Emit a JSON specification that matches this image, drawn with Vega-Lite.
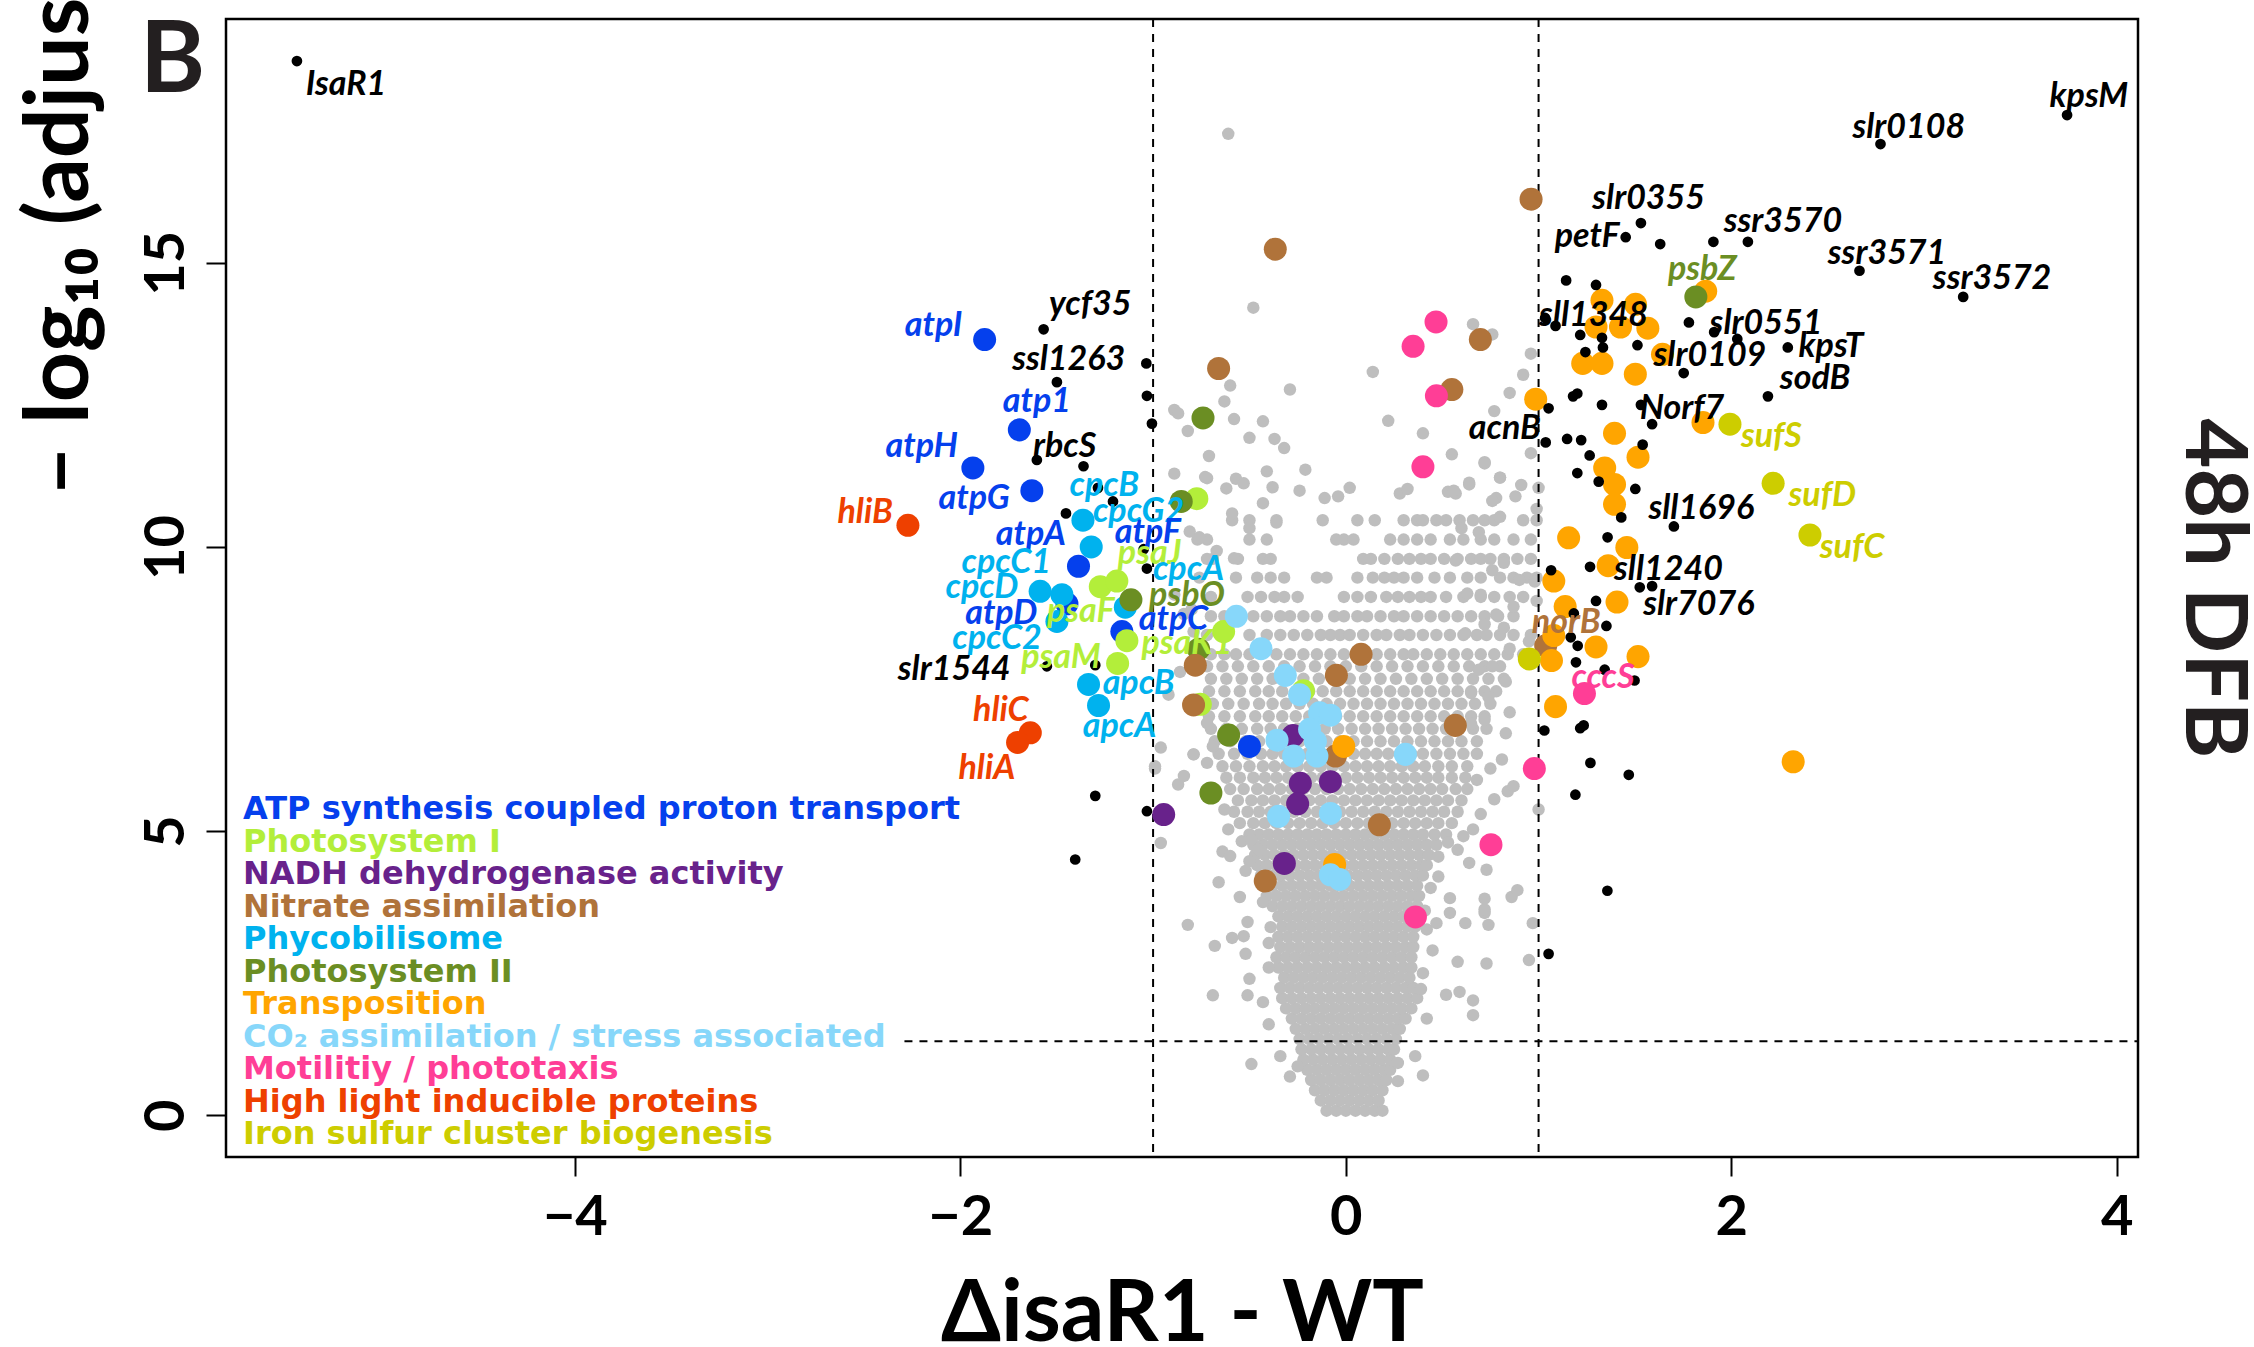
{
"$schema":"https://vega.github.io/schema/vega-lite/v6.json",
"width":1912,"height":1138,
"autosize":{"type":"none"},
"padding":{"left":226,"top":19,"right":116,"bottom":190},
"background":"white",
"config":{"view":{"stroke":"black","strokeWidth":2.5},"axis":{"grid":false,"domain":false,"tickColor":"black","labelColor":"black","titleColor":"black","labelOverlap":false}},
"datasets":{
"gray":[
{"x":-0.1,"y":0.08},{"x":-0.05,"y":0.08},{"x":0,"y":0.08},{"x":0.05,"y":0.08},{"x":0.1,"y":0.08},{"x":0.15,"y":0.08},{"x":0.19,"y":0.08},
{"x":-0.13,"y":0.26},{"x":-0.08,"y":0.26},{"x":-0.03,"y":0.26},{"x":0.02,"y":0.26},{"x":0.07,"y":0.26},{"x":0.12,"y":0.26},{"x":0.17,"y":0.26},
{"x":-0.16,"y":0.44},{"x":-0.11,"y":0.44},{"x":-0.06,"y":0.44},{"x":-0.01,"y":0.44},{"x":0.04,"y":0.44},{"x":0.09,"y":0.44},{"x":0.14,"y":0.44},{"x":0.19,"y":0.44},
{"x":-0.18,"y":0.62},{"x":-0.13,"y":0.62},{"x":-0.08,"y":0.62},{"x":-0.03,"y":0.62},{"x":0.02,"y":0.62},{"x":0.07,"y":0.62},{"x":0.12,"y":0.62},{"x":0.17,"y":0.62},{"x":0.21,"y":0.62},
{"x":-0.2,"y":0.8},{"x":-0.15,"y":0.8},{"x":-0.1,"y":0.8},{"x":-0.05,"y":0.8},{"x":0,"y":0.8},{"x":0.05,"y":0.8},{"x":0.1,"y":0.8},{"x":0.15,"y":0.8},{"x":0.2,"y":0.8},{"x":0.23,"y":0.8},
{"x":-0.22,"y":0.98},{"x":-0.17,"y":0.98},{"x":-0.12,"y":0.98},{"x":-0.07,"y":0.98},{"x":-0.02,"y":0.98},{"x":0.03,"y":0.98},{"x":0.08,"y":0.98},{"x":0.13,"y":0.98},{"x":0.18,"y":0.98},{"x":0.23,"y":0.98},
{"x":-0.23,"y":1.16},{"x":-0.18,"y":1.16},{"x":-0.13,"y":1.16},{"x":-0.08,"y":1.16},{"x":-0.03,"y":1.16},{"x":0.02,"y":1.16},{"x":0.07,"y":1.16},{"x":0.12,"y":1.16},{"x":0.17,"y":1.16},{"x":0.22,"y":1.16},{"x":0.25,"y":1.16},
{"x":-0.24,"y":1.34},{"x":-0.19,"y":1.34},{"x":-0.14,"y":1.34},{"x":-0.09,"y":1.34},{"x":-0.04,"y":1.34},{"x":0.01,"y":1.34},{"x":0.06,"y":1.34},{"x":0.11,"y":1.34},{"x":0.16,"y":1.34},{"x":0.21,"y":1.34},{"x":0.26,"y":1.34},
{"x":-0.26,"y":1.52},{"x":-0.21,"y":1.52},{"x":-0.16,"y":1.52},{"x":-0.11,"y":1.52},{"x":-0.06,"y":1.52},{"x":-0.01,"y":1.52},{"x":0.04,"y":1.52},{"x":0.09,"y":1.52},{"x":0.14,"y":1.52},{"x":0.19,"y":1.52},{"x":0.24,"y":1.52},{"x":0.28,"y":1.52},
{"x":-0.28,"y":1.7},{"x":-0.23,"y":1.7},{"x":-0.18,"y":1.7},{"x":-0.13,"y":1.7},{"x":-0.08,"y":1.7},{"x":-0.03,"y":1.7},{"x":0.02,"y":1.7},{"x":0.07,"y":1.7},{"x":0.12,"y":1.7},{"x":0.17,"y":1.7},{"x":0.22,"y":1.7},{"x":0.27,"y":1.7},{"x":0.31,"y":1.7},
{"x":-0.31,"y":1.88},{"x":-0.26,"y":1.88},{"x":-0.21,"y":1.88},{"x":-0.16,"y":1.88},{"x":-0.11,"y":1.88},{"x":-0.06,"y":1.88},{"x":-0.01,"y":1.88},{"x":0.04,"y":1.88},{"x":0.09,"y":1.88},{"x":0.14,"y":1.88},{"x":0.19,"y":1.88},{"x":0.24,"y":1.88},{"x":0.29,"y":1.88},{"x":0.34,"y":1.88},
{"x":-0.33,"y":2.06},{"x":-0.28,"y":2.06},{"x":-0.23,"y":2.06},{"x":-0.18,"y":2.06},{"x":-0.13,"y":2.06},{"x":-0.08,"y":2.06},{"x":-0.03,"y":2.06},{"x":0.02,"y":2.06},{"x":0.07,"y":2.06},{"x":0.12,"y":2.06},{"x":0.17,"y":2.06},{"x":0.22,"y":2.06},{"x":0.27,"y":2.06},{"x":0.32,"y":2.06},{"x":0.37,"y":2.06},
{"x":-0.34,"y":2.24},{"x":-0.29,"y":2.24},{"x":-0.24,"y":2.24},{"x":-0.19,"y":2.24},{"x":-0.14,"y":2.24},{"x":-0.09,"y":2.24},{"x":-0.04,"y":2.24},{"x":0.01,"y":2.24},{"x":0.06,"y":2.24},{"x":0.11,"y":2.24},{"x":0.16,"y":2.24},{"x":0.21,"y":2.24},{"x":0.26,"y":2.24},{"x":0.31,"y":2.24},{"x":0.35,"y":2.24},
{"x":-0.32,"y":2.42},{"x":-0.27,"y":2.42},{"x":-0.22,"y":2.42},{"x":-0.17,"y":2.42},{"x":-0.12,"y":2.42},{"x":-0.07,"y":2.42},{"x":-0.02,"y":2.42},{"x":0.03,"y":2.42},{"x":0.08,"y":2.42},{"x":0.13,"y":2.42},{"x":0.18,"y":2.42},{"x":0.23,"y":2.42},{"x":0.28,"y":2.42},{"x":0.33,"y":2.42},
{"x":-0.35,"y":2.6},{"x":-0.3,"y":2.6},{"x":-0.25,"y":2.6},{"x":-0.2,"y":2.6},{"x":-0.15,"y":2.6},{"x":-0.1,"y":2.6},{"x":-0.05,"y":2.6},{"x":0,"y":2.6},{"x":0.05,"y":2.6},{"x":0.1,"y":2.6},{"x":0.15,"y":2.6},{"x":0.2,"y":2.6},{"x":0.25,"y":2.6},{"x":0.3,"y":2.6},{"x":0.34,"y":2.6},
{"x":-0.36,"y":2.78},{"x":-0.31,"y":2.78},{"x":-0.26,"y":2.78},{"x":-0.21,"y":2.78},{"x":-0.16,"y":2.78},{"x":-0.11,"y":2.78},{"x":-0.06,"y":2.78},{"x":-0.01,"y":2.78},{"x":0.04,"y":2.78},{"x":0.09,"y":2.78},{"x":0.14,"y":2.78},{"x":0.19,"y":2.78},{"x":0.24,"y":2.78},{"x":0.29,"y":2.78},{"x":0.34,"y":2.78},
{"x":-0.34,"y":2.96},{"x":-0.29,"y":2.96},{"x":-0.24,"y":2.96},{"x":-0.19,"y":2.96},{"x":-0.14,"y":2.96},{"x":-0.09,"y":2.96},{"x":-0.04,"y":2.96},{"x":0.01,"y":2.96},{"x":0.06,"y":2.96},{"x":0.11,"y":2.96},{"x":0.16,"y":2.96},{"x":0.21,"y":2.96},{"x":0.26,"y":2.96},{"x":0.31,"y":2.96},{"x":0.35,"y":2.96},
{"x":-0.35,"y":3.14},{"x":-0.3,"y":3.14},{"x":-0.25,"y":3.14},{"x":-0.2,"y":3.14},{"x":-0.15,"y":3.14},{"x":-0.1,"y":3.14},{"x":-0.05,"y":3.14},{"x":0,"y":3.14},{"x":0.05,"y":3.14},{"x":0.1,"y":3.14},{"x":0.15,"y":3.14},{"x":0.2,"y":3.14},{"x":0.25,"y":3.14},{"x":0.3,"y":3.14},{"x":0.35,"y":3.14},
{"x":-0.33,"y":3.32},{"x":-0.28,"y":3.32},{"x":-0.23,"y":3.32},{"x":-0.18,"y":3.32},{"x":-0.13,"y":3.32},{"x":-0.08,"y":3.32},{"x":-0.03,"y":3.32},{"x":0.02,"y":3.32},{"x":0.07,"y":3.32},{"x":0.12,"y":3.32},{"x":0.17,"y":3.32},{"x":0.22,"y":3.32},{"x":0.27,"y":3.32},{"x":0.32,"y":3.32},{"x":0.36,"y":3.32},
{"x":-0.35,"y":3.5},{"x":-0.3,"y":3.5},{"x":-0.25,"y":3.5},{"x":-0.2,"y":3.5},{"x":-0.15,"y":3.5},{"x":-0.1,"y":3.5},{"x":-0.05,"y":3.5},{"x":0,"y":3.5},{"x":0.05,"y":3.5},{"x":0.1,"y":3.5},{"x":0.15,"y":3.5},{"x":0.2,"y":3.5},{"x":0.25,"y":3.5},{"x":0.3,"y":3.5},{"x":0.35,"y":3.5},
{"x":-0.38,"y":3.68},{"x":-0.33,"y":3.68},{"x":-0.28,"y":3.68},{"x":-0.23,"y":3.68},{"x":-0.18,"y":3.68},{"x":-0.13,"y":3.68},{"x":-0.08,"y":3.68},{"x":-0.03,"y":3.68},{"x":0.02,"y":3.68},{"x":0.07,"y":3.68},{"x":0.12,"y":3.68},{"x":0.17,"y":3.68},{"x":0.22,"y":3.68},{"x":0.27,"y":3.68},{"x":0.32,"y":3.68},{"x":0.37,"y":3.68},
{"x":-0.41,"y":3.86},{"x":-0.36,"y":3.86},{"x":-0.31,"y":3.86},{"x":-0.26,"y":3.86},{"x":-0.21,"y":3.86},{"x":-0.16,"y":3.86},{"x":-0.11,"y":3.86},{"x":-0.06,"y":3.86},{"x":-0.01,"y":3.86},{"x":0.04,"y":3.86},{"x":0.09,"y":3.86},{"x":0.14,"y":3.86},{"x":0.19,"y":3.86},{"x":0.24,"y":3.86},{"x":0.29,"y":3.86},{"x":0.34,"y":3.86},{"x":0.38,"y":3.86},
{"x":-0.43,"y":4.04},{"x":-0.38,"y":4.04},{"x":-0.33,"y":4.04},{"x":-0.28,"y":4.04},{"x":-0.23,"y":4.04},{"x":-0.18,"y":4.04},{"x":-0.13,"y":4.04},{"x":-0.08,"y":4.04},{"x":-0.03,"y":4.04},{"x":0.02,"y":4.04},{"x":0.07,"y":4.04},{"x":0.12,"y":4.04},{"x":0.17,"y":4.04},{"x":0.22,"y":4.04},{"x":0.27,"y":4.04},{"x":0.32,"y":4.04},{"x":0.37,"y":4.04},
{"x":-0.44,"y":4.22},{"x":-0.39,"y":4.22},{"x":-0.34,"y":4.22},{"x":-0.29,"y":4.22},{"x":-0.24,"y":4.22},{"x":-0.19,"y":4.22},{"x":-0.14,"y":4.22},{"x":-0.09,"y":4.22},{"x":-0.04,"y":4.22},{"x":0.01,"y":4.22},{"x":0.06,"y":4.22},{"x":0.11,"y":4.22},{"x":0.16,"y":4.22},{"x":0.21,"y":4.22},{"x":0.26,"y":4.22},{"x":0.31,"y":4.22},{"x":0.36,"y":4.22},{"x":0.4,"y":4.22},
{"x":-0.46,"y":4.4},{"x":-0.41,"y":4.4},{"x":-0.36,"y":4.4},{"x":-0.31,"y":4.4},{"x":-0.26,"y":4.4},{"x":-0.21,"y":4.4},{"x":-0.16,"y":4.4},{"x":-0.11,"y":4.4},{"x":-0.06,"y":4.4},{"x":-0.01,"y":4.4},{"x":0.04,"y":4.4},{"x":0.09,"y":4.4},{"x":0.14,"y":4.4},{"x":0.19,"y":4.4},{"x":0.24,"y":4.4},{"x":0.29,"y":4.4},{"x":0.34,"y":4.4},{"x":0.39,"y":4.4},{"x":0.42,"y":4.4},
{"x":-0.47,"y":4.58},{"x":-0.42,"y":4.58},{"x":-0.37,"y":4.58},{"x":-0.32,"y":4.58},{"x":-0.27,"y":4.58},{"x":-0.22,"y":4.58},{"x":-0.17,"y":4.58},{"x":-0.12,"y":4.58},{"x":-0.07,"y":4.58},{"x":-0.02,"y":4.58},{"x":0.03,"y":4.58},{"x":0.08,"y":4.58},{"x":0.13,"y":4.58},{"x":0.18,"y":4.58},{"x":0.23,"y":4.58},{"x":0.28,"y":4.58},{"x":0.33,"y":4.58},{"x":0.38,"y":4.58},{"x":0.43,"y":4.58},
{"x":-0.48,"y":4.76},{"x":-0.43,"y":4.76},{"x":-0.38,"y":4.76},{"x":-0.33,"y":4.76},{"x":-0.28,"y":4.76},{"x":-0.23,"y":4.76},{"x":-0.18,"y":4.76},{"x":-0.13,"y":4.76},{"x":-0.08,"y":4.76},{"x":-0.03,"y":4.76},{"x":0.02,"y":4.76},{"x":0.07,"y":4.76},{"x":0.12,"y":4.76},{"x":0.17,"y":4.76},{"x":0.22,"y":4.76},{"x":0.27,"y":4.76},{"x":0.32,"y":4.76},{"x":0.37,"y":4.76},{"x":0.42,"y":4.76},{"x":0.47,"y":4.76},
{"x":-0.5,"y":4.94},{"x":-0.45,"y":4.94},{"x":-0.4,"y":4.94},{"x":-0.35,"y":4.94},{"x":-0.3,"y":4.94},{"x":-0.25,"y":4.94},{"x":-0.2,"y":4.94},{"x":-0.15,"y":4.94},{"x":-0.1,"y":4.94},{"x":-0.05,"y":4.94},{"x":0,"y":4.94},{"x":0.05,"y":4.94},{"x":0.1,"y":4.94},{"x":0.15,"y":4.94},{"x":0.2,"y":4.94},{"x":0.25,"y":4.94},{"x":0.3,"y":4.94},{"x":0.35,"y":4.94},{"x":0.4,"y":4.94},{"x":0.46,"y":4.94},{"x":0.52,"y":4.94},
{"x":-0.55,"y":5.14},{"x":-0.48,"y":5.14},{"x":-0.42,"y":5.14},{"x":-0.36,"y":5.14},{"x":-0.3,"y":5.14},{"x":-0.24,"y":5.14},{"x":-0.18,"y":5.14},{"x":-0.12,"y":5.14},{"x":-0.06,"y":5.14},{"x":0,"y":5.14},{"x":0.06,"y":5.14},{"x":0.12,"y":5.14},{"x":0.18,"y":5.14},{"x":0.24,"y":5.14},{"x":0.3,"y":5.14},{"x":0.36,"y":5.14},{"x":0.42,"y":5.14},{"x":0.48,"y":5.14},{"x":0.55,"y":5.14},
{"x":-0.58,"y":5.34},{"x":-0.51,"y":5.34},{"x":-0.45,"y":5.34},{"x":-0.39,"y":5.34},{"x":-0.33,"y":5.34},{"x":-0.27,"y":5.34},{"x":-0.21,"y":5.34},{"x":-0.15,"y":5.34},{"x":-0.09,"y":5.34},{"x":-0.03,"y":5.34},{"x":0.03,"y":5.34},{"x":0.09,"y":5.34},{"x":0.15,"y":5.34},{"x":0.21,"y":5.34},{"x":0.27,"y":5.34},{"x":0.33,"y":5.34},{"x":0.39,"y":5.34},{"x":0.45,"y":5.34},{"x":0.51,"y":5.34},{"x":0.58,"y":5.34},
{"x":-0.56,"y":5.54},{"x":-0.49,"y":5.54},{"x":-0.43,"y":5.54},{"x":-0.37,"y":5.54},{"x":-0.31,"y":5.54},{"x":-0.25,"y":5.54},{"x":-0.19,"y":5.54},{"x":-0.13,"y":5.54},{"x":-0.07,"y":5.54},{"x":-0.01,"y":5.54},{"x":0.05,"y":5.54},{"x":0.11,"y":5.54},{"x":0.17,"y":5.54},{"x":0.23,"y":5.54},{"x":0.29,"y":5.54},{"x":0.35,"y":5.54},{"x":0.41,"y":5.54},{"x":0.47,"y":5.54},{"x":0.53,"y":5.54},{"x":0.6,"y":5.54},
{"x":-0.6,"y":5.74},{"x":-0.53,"y":5.74},{"x":-0.46,"y":5.74},{"x":-0.4,"y":5.74},{"x":-0.34,"y":5.74},{"x":-0.28,"y":5.74},{"x":-0.22,"y":5.74},{"x":-0.16,"y":5.74},{"x":-0.1,"y":5.74},{"x":-0.04,"y":5.74},{"x":0.02,"y":5.74},{"x":0.08,"y":5.74},{"x":0.14,"y":5.74},{"x":0.2,"y":5.74},{"x":0.26,"y":5.74},{"x":0.32,"y":5.74},{"x":0.38,"y":5.74},{"x":0.44,"y":5.74},{"x":0.5,"y":5.74},{"x":0.57,"y":5.74},{"x":0.63,"y":5.74},
{"x":-0.62,"y":5.94},{"x":-0.55,"y":5.94},{"x":-0.48,"y":5.94},{"x":-0.42,"y":5.94},{"x":-0.36,"y":5.94},{"x":-0.3,"y":5.94},{"x":-0.24,"y":5.94},{"x":-0.18,"y":5.94},{"x":-0.12,"y":5.94},{"x":-0.06,"y":5.94},{"x":0,"y":5.94},{"x":0.06,"y":5.94},{"x":0.12,"y":5.94},{"x":0.18,"y":5.94},{"x":0.24,"y":5.94},{"x":0.3,"y":5.94},{"x":0.36,"y":5.94},{"x":0.42,"y":5.94},{"x":0.48,"y":5.94},{"x":0.55,"y":5.94},{"x":0.62,"y":5.94},
{"x":-0.64,"y":6.14},{"x":-0.57,"y":6.14},{"x":-0.5,"y":6.14},{"x":-0.43,"y":6.14},{"x":-0.37,"y":6.14},{"x":-0.31,"y":6.14},{"x":-0.25,"y":6.14},{"x":-0.19,"y":6.14},{"x":-0.13,"y":6.14},{"x":-0.07,"y":6.14},{"x":-0.01,"y":6.14},{"x":0.05,"y":6.14},{"x":0.11,"y":6.14},{"x":0.17,"y":6.14},{"x":0.23,"y":6.14},{"x":0.29,"y":6.14},{"x":0.35,"y":6.14},{"x":0.41,"y":6.14},{"x":0.48,"y":6.14},{"x":0.55,"y":6.14},{"x":0.63,"y":6.14},
{"x":-0.66,"y":6.36},{"x":-0.58,"y":6.36},{"x":-0.51,"y":6.36},{"x":-0.44,"y":6.36},{"x":-0.38,"y":6.36},{"x":-0.32,"y":6.36},{"x":-0.26,"y":6.36},{"x":-0.2,"y":6.36},{"x":-0.14,"y":6.36},{"x":-0.08,"y":6.36},{"x":-0.02,"y":6.36},{"x":0.04,"y":6.36},{"x":0.1,"y":6.36},{"x":0.16,"y":6.36},{"x":0.22,"y":6.36},{"x":0.28,"y":6.36},{"x":0.34,"y":6.36},{"x":0.4,"y":6.36},{"x":0.47,"y":6.36},{"x":0.54,"y":6.36},{"x":0.61,"y":6.36},{"x":0.68,"y":6.36},
{"x":-0.68,"y":6.58},{"x":-0.6,"y":6.58},{"x":-0.52,"y":6.58},{"x":-0.45,"y":6.58},{"x":-0.38,"y":6.58},{"x":-0.31,"y":6.58},{"x":-0.24,"y":6.58},{"x":-0.17,"y":6.58},{"x":-0.1,"y":6.58},{"x":-0.03,"y":6.58},{"x":0.04,"y":6.58},{"x":0.11,"y":6.58},{"x":0.18,"y":6.58},{"x":0.25,"y":6.58},{"x":0.32,"y":6.58},{"x":0.39,"y":6.58},{"x":0.46,"y":6.58},{"x":0.53,"y":6.58},{"x":0.6,"y":6.58},{"x":0.68,"y":6.58},
{"x":-0.7,"y":6.8},{"x":-0.62,"y":6.8},{"x":-0.54,"y":6.8},{"x":-0.46,"y":6.8},{"x":-0.39,"y":6.8},{"x":-0.32,"y":6.8},{"x":-0.25,"y":6.8},{"x":-0.18,"y":6.8},{"x":-0.11,"y":6.8},{"x":-0.04,"y":6.8},{"x":0.03,"y":6.8},{"x":0.1,"y":6.8},{"x":0.17,"y":6.8},{"x":0.24,"y":6.8},{"x":0.31,"y":6.8},{"x":0.38,"y":6.8},{"x":0.45,"y":6.8},{"x":0.52,"y":6.8},{"x":0.59,"y":6.8},{"x":0.66,"y":6.8},{"x":0.73,"y":6.8},
{"x":-0.71,"y":7.02},{"x":-0.63,"y":7.02},{"x":-0.55,"y":7.02},{"x":-0.47,"y":7.02},{"x":-0.4,"y":7.02},{"x":-0.33,"y":7.02},{"x":-0.26,"y":7.02},{"x":-0.19,"y":7.02},{"x":-0.12,"y":7.02},{"x":-0.05,"y":7.02},{"x":0.02,"y":7.02},{"x":0.09,"y":7.02},{"x":0.16,"y":7.02},{"x":0.23,"y":7.02},{"x":0.3,"y":7.02},{"x":0.37,"y":7.02},{"x":0.44,"y":7.02},{"x":0.51,"y":7.02},{"x":0.58,"y":7.02},{"x":0.65,"y":7.02},{"x":0.72,"y":7.02},
{"x":-0.69,"y":7.24},{"x":-0.61,"y":7.24},{"x":-0.53,"y":7.24},{"x":-0.45,"y":7.24},{"x":-0.38,"y":7.24},{"x":-0.31,"y":7.24},{"x":-0.24,"y":7.24},{"x":-0.17,"y":7.24},{"x":-0.1,"y":7.24},{"x":-0.03,"y":7.24},{"x":0.04,"y":7.24},{"x":0.11,"y":7.24},{"x":0.18,"y":7.24},{"x":0.25,"y":7.24},{"x":0.32,"y":7.24},{"x":0.39,"y":7.24},{"x":0.46,"y":7.24},{"x":0.53,"y":7.24},{"x":0.6,"y":7.24},{"x":0.67,"y":7.24},{"x":0.75,"y":7.24},
{"x":-0.71,"y":7.46},{"x":-0.63,"y":7.46},{"x":-0.55,"y":7.46},{"x":-0.47,"y":7.46},{"x":-0.4,"y":7.46},{"x":-0.33,"y":7.46},{"x":-0.26,"y":7.46},{"x":-0.19,"y":7.46},{"x":-0.12,"y":7.46},{"x":-0.05,"y":7.46},{"x":0.02,"y":7.46},{"x":0.09,"y":7.46},{"x":0.16,"y":7.46},{"x":0.23,"y":7.46},{"x":0.3,"y":7.46},{"x":0.37,"y":7.46},{"x":0.44,"y":7.46},{"x":0.51,"y":7.46},{"x":0.58,"y":7.46},{"x":0.65,"y":7.46},{"x":0.72,"y":7.46},{"x":0.78,"y":7.46},
{"x":-0.7,"y":7.68},{"x":-0.62,"y":7.68},{"x":-0.54,"y":7.68},{"x":-0.46,"y":7.68},{"x":-0.38,"y":7.68},{"x":-0.3,"y":7.68},{"x":-0.22,"y":7.68},{"x":-0.14,"y":7.68},{"x":-0.06,"y":7.68},{"x":0.02,"y":7.68},{"x":0.1,"y":7.68},{"x":0.18,"y":7.68},{"x":0.26,"y":7.68},{"x":0.34,"y":7.68},{"x":0.42,"y":7.68},{"x":0.5,"y":7.68},{"x":0.58,"y":7.68},{"x":0.66,"y":7.68},{"x":0.74,"y":7.68},{"x":0.82,"y":7.68},
{"x":-0.72,"y":7.9},{"x":-0.64,"y":7.9},{"x":-0.56,"y":7.9},{"x":-0.48,"y":7.9},{"x":-0.4,"y":7.9},{"x":-0.32,"y":7.9},{"x":-0.24,"y":7.9},{"x":-0.16,"y":7.9},{"x":-0.08,"y":7.9},{"x":0,"y":7.9},{"x":0.08,"y":7.9},{"x":0.16,"y":7.9},{"x":0.24,"y":7.9},{"x":0.32,"y":7.9},{"x":0.4,"y":7.9},{"x":0.48,"y":7.9},{"x":0.56,"y":7.9},{"x":0.64,"y":7.9},{"x":0.72,"y":7.9},{"x":0.8,"y":7.9},
{"x":-0.7,"y":8.11},{"x":-0.63,"y":8.11},{"x":-0.57,"y":8.11},{"x":-0.5,"y":8.11},{"x":-0.36,"y":8.11},{"x":-0.29,"y":8.11},{"x":-0.22,"y":8.11},{"x":-0.15,"y":8.11},{"x":-0.08,"y":8.11},{"x":-0.01,"y":8.11},{"x":0.16,"y":8.11},{"x":0.23,"y":8.11},{"x":0.3,"y":8.11},{"x":0.35,"y":8.11},{"x":0.42,"y":8.11},{"x":0.49,"y":8.11},{"x":0.56,"y":8.11},{"x":0.63,"y":8.11},{"x":0.7,"y":8.11},{"x":0.77,"y":8.11},{"x":0.84,"y":8.11},{"x":0.92,"y":8.11},
{"x":-0.72,"y":8.45},{"x":-0.5,"y":8.45},{"x":-0.41,"y":8.45},{"x":-0.34,"y":8.45},{"x":-0.27,"y":8.45},{"x":-0.2,"y":8.45},{"x":-0.13,"y":8.45},{"x":-0.08,"y":8.45},{"x":-0.03,"y":8.45},{"x":0.02,"y":8.45},{"x":0.09,"y":8.45},{"x":0.16,"y":8.45},{"x":0.21,"y":8.45},{"x":0.28,"y":8.45},{"x":0.33,"y":8.45},{"x":0.4,"y":8.45},{"x":0.47,"y":8.45},{"x":0.54,"y":8.45},{"x":0.61,"y":8.45},{"x":0.68,"y":8.45},{"x":0.73,"y":8.45},{"x":0.8,"y":8.45},{"x":0.87,"y":8.45},{"x":0.96,"y":8.45},
{"x":-0.7,"y":8.78},{"x":-0.63,"y":8.78},{"x":-0.48,"y":8.78},{"x":-0.41,"y":8.78},{"x":-0.34,"y":8.78},{"x":-0.29,"y":8.78},{"x":-0.22,"y":8.78},{"x":-0.15,"y":8.78},{"x":-0.06,"y":8.78},{"x":-0.01,"y":8.78},{"x":0.06,"y":8.78},{"x":0.11,"y":8.78},{"x":0.18,"y":8.78},{"x":0.25,"y":8.78},{"x":0.3,"y":8.78},{"x":0.37,"y":8.78},{"x":0.44,"y":8.78},{"x":0.51,"y":8.78},{"x":0.58,"y":8.78},{"x":0.65,"y":8.78},{"x":0.72,"y":8.78},{"x":0.79,"y":8.78},{"x":0.87,"y":8.78},
{"x":-0.7,"y":9.12},{"x":-0.51,"y":9.12},{"x":-0.44,"y":9.12},{"x":-0.37,"y":9.12},{"x":-0.32,"y":9.12},{"x":-0.25,"y":9.12},{"x":-0.01,"y":9.12},{"x":0.06,"y":9.12},{"x":0.13,"y":9.12},{"x":0.21,"y":9.12},{"x":0.27,"y":9.12},{"x":0.33,"y":9.12},{"x":0.39,"y":9.12},{"x":0.44,"y":9.12},{"x":0.52,"y":9.12},{"x":0.61,"y":9.12},{"x":0.7,"y":9.12},{"x":0.77,"y":9.12},{"x":0.85,"y":9.12},{"x":0.92,"y":9.12},
{"x":-0.76,"y":9.46},{"x":-0.57,"y":9.46},{"x":-0.46,"y":9.46},{"x":-0.39,"y":9.46},{"x":-0.32,"y":9.46},{"x":-0.15,"y":9.46},{"x":-0.1,"y":9.46},{"x":0.06,"y":9.46},{"x":0.14,"y":9.46},{"x":0.2,"y":9.46},{"x":0.25,"y":9.46},{"x":0.3,"y":9.46},{"x":0.37,"y":9.46},{"x":0.46,"y":9.46},{"x":0.54,"y":9.46},{"x":0.63,"y":9.46},{"x":0.7,"y":9.46},{"x":0.8,"y":9.46},{"x":0.87,"y":9.46},{"x":0.94,"y":9.46},{"x":0.99,"y":9.46},
{"x":-0.72,"y":9.79},{"x":-0.69,"y":9.79},{"x":-0.56,"y":9.79},{"x":-0.43,"y":9.79},{"x":-0.39,"y":9.79},{"x":0.09,"y":9.79},{"x":0.13,"y":9.79},{"x":0.2,"y":9.79},{"x":0.27,"y":9.79},{"x":0.33,"y":9.79},{"x":0.39,"y":9.79},{"x":0.44,"y":9.79},{"x":0.51,"y":9.79},{"x":0.58,"y":9.79},{"x":0.65,"y":9.79},{"x":0.7,"y":9.79},{"x":0.75,"y":9.79},{"x":0.82,"y":9.79},{"x":0.89,"y":9.79},{"x":0.96,"y":9.79},
{"x":-0.77,"y":10.13},{"x":-0.72,"y":10.13},{"x":-0.5,"y":10.13},{"x":-0.41,"y":10.13},{"x":-0.05,"y":10.13},{"x":-0.01,"y":10.13},{"x":0.04,"y":10.13},{"x":0.23,"y":10.13},{"x":0.3,"y":10.13},{"x":0.37,"y":10.13},{"x":0.44,"y":10.13},{"x":0.54,"y":10.13},{"x":0.61,"y":10.13},{"x":0.7,"y":10.13},{"x":0.77,"y":10.13},{"x":0.87,"y":10.13},{"x":0.96,"y":10.13},
{"x":-0.59,"y":10.47},{"x":-0.5,"y":10.47},{"x":-0.36,"y":10.47},{"x":-0.12,"y":10.47},{"x":0.06,"y":10.47},{"x":0.15,"y":10.47},{"x":0.3,"y":10.47},{"x":0.37,"y":10.47},{"x":0.4,"y":10.47},{"x":0.47,"y":10.47},{"x":0.52,"y":10.47},{"x":0.59,"y":10.47},{"x":0.66,"y":10.47},{"x":0.72,"y":10.47},{"x":0.77,"y":10.47},{"x":0.92,"y":10.47},{"x":0.99,"y":10.47},
{"x":-0.61,"y":17.27},{"x":-0.48,"y":14.21},{"x":0.14,"y":13.08},{"x":-0.29,"y":12.77},{"x":0.66,"y":13.92},{"x":0.76,"y":13.74},{"x":0.96,"y":13.4},{"x":0.92,"y":13.03},{"x":0.85,"y":12.71},{"x":-0.6,"y":12.84},{"x":-0.63,"y":12.56},{"x":-0.58,"y":12.25},{"x":-0.89,"y":12.41},{"x":-0.87,"y":12.35},{"x":-0.82,"y":12.04},{"x":-0.71,"y":11.6},{"x":-0.5,"y":11.92},{"x":-0.43,"y":12.21},{"x":-0.37,"y":11.9},{"x":-0.32,"y":11.74},{"x":0.22,"y":12.22},{"x":0.4,"y":12.0},{"x":0.55,"y":11.63},{"x":0.72,"y":11.49},{"x":0.77,"y":12.39},{"x":0.96,"y":11.65},{"x":-0.89,"y":11.29},{"x":-0.72,"y":11.21},{"x":-0.57,"y":11.2},{"x":-0.53,"y":11.12},{"x":-0.41,"y":11.33},{"x":-0.21,"y":11.36},{"x":-0.62,"y":11.03},{"x":-0.38,"y":11.05},{"x":-0.24,"y":10.99},{"x":-0.59,"y":10.59},{"x":-0.43,"y":10.77},{"x":-0.5,"y":10.33},{"x":-0.36,"y":10.43},{"x":-0.11,"y":10.86},{"x":-0.04,"y":10.89},{"x":0.02,"y":11.04},{"x":0.28,"y":10.94},{"x":0.32,"y":11.02},{"x":0.53,"y":10.97},{"x":0.57,"y":10.94},{"x":0.64,"y":11.13},{"x":0.8,"y":11.22},{"x":0.91,"y":11.09},{"x":0.78,"y":10.86},{"x":0.88,"y":10.89},{"x":1.0,"y":11.04},{"x":0.72,"y":11.47},{"x":0.8,"y":11.22},{"x":0.99,"y":10.67},{"x":0.76,"y":10.81},{"x":0.64,"y":11.1},{"x":0.56,"y":10.99},{"x":0.6,"y":10.33},{"x":0.69,"y":10.26},{"x":0.8,"y":10.53},
{"x":-0.73,"y":11.23},{"x":-0.81,"y":10.27},{"x":-0.76,"y":10.17},{"x":-0.67,"y":9.93},{"x":-0.58,"y":9.8},{"x":-0.89,"y":9.16},{"x":-0.84,"y":8.82},{"x":-0.79,"y":8.51},{"x":-0.92,"y":7.4},{"x":-0.86,"y":7.8},{"x":-0.8,"y":8.9},{"x":-0.96,"y":6.47},{"x":-0.87,"y":5.82},{"x":-0.79,"y":6.35},{"x":-0.99,"y":6.1},
{"x":0.57,"y":9.76},{"x":0.76,"y":9.59},{"x":0.82,"y":9.72},{"x":0.9,"y":9.42},{"x":0.98,"y":9.39},{"x":0.7,"y":9.16},{"x":0.63,"y":9.18},{"x":0.78,"y":8.81},{"x":0.87,"y":8.95},{"x":0.99,"y":9.05},{"x":0.72,"y":8.64},{"x":0.62,"y":8.48},{"x":0.82,"y":8.58},{"x":0.85,"y":8.21},{"x":0.95,"y":8.34},{"x":0.76,"y":7.9},{"x":0.69,"y":7.84},{"x":0.83,"y":7.63},{"x":0.65,"y":7.43},{"x":0.74,"y":7.36},{"x":0.85,"y":7.09},{"x":0.72,"y":6.96},{"x":0.65,"y":6.89},{"x":0.83,"y":6.72},
{"x":-0.99,"y":6.14},{"x":-0.96,"y":4.79},{"x":-0.84,"y":5.97},{"x":-0.79,"y":6.35},{"x":-0.72,"y":6.9},{"x":-0.69,"y":6.49},{"x":-0.63,"y":5.38},{"x":-0.61,"y":5.03},{"x":-0.64,"y":4.64},{"x":-0.6,"y":4.56},{"x":-0.54,"y":4.82},{"x":-0.49,"y":4.85},{"x":-0.5,"y":4.47},{"x":-0.45,"y":4.67},{"x":-0.66,"y":4.1},{"x":-0.55,"y":3.84},{"x":-0.43,"y":3.75},{"x":-0.82,"y":3.35},{"x":-0.59,"y":3.12},{"x":-0.53,"y":3.15},{"x":-0.51,"y":3.4},{"x":-0.39,"y":3.31},{"x":-0.68,"y":2.98},{"x":-0.52,"y":2.84},{"x":-0.4,"y":3.03},{"x":-0.5,"y":2.4},{"x":-0.69,"y":2.11},{"x":-0.51,"y":2.11},{"x":-0.43,"y":1.99},{"x":-0.49,"y":0.9},{"x":-0.34,"y":1.04},{"x":-0.29,"y":0.68},{"x":-0.25,"y":0.86},{"x":0.27,"y":0.6},{"x":0.4,"y":0.7},{"x":0.36,"y":1.04},{"x":0.27,"y":0.92},{"x":0.52,"y":2.12},{"x":0.59,"y":2.17},{"x":0.66,"y":2.02},{"x":0.66,"y":1.76},{"x":0.58,"y":2.7},{"x":0.73,"y":2.67},{"x":0.95,"y":2.73},{"x":0.42,"y":3.27},{"x":0.47,"y":3.38},{"x":0.62,"y":3.38},{"x":0.72,"y":3.56},{"x":0.74,"y":3.35},{"x":0.97,"y":3.38},{"x":0.54,"y":3.56},{"x":0.72,"y":3.81},{"x":0.72,"y":3.62},{"x":0.54,"y":3.82},{"x":0.48,"y":4.2},{"x":0.86,"y":3.84},{"x":0.89,"y":3.96},{"x":0.64,"y":4.44},{"x":0.73,"y":4.32},{"x":0.58,"y":4.67},{"x":0.61,"y":4.91},{"x":0.66,"y":5.03},{"x":0.77,"y":5.56},{"x":0.84,"y":5.7},{"x":0.87,"y":5.79},{"x":0.81,"y":6.26},{"x":1.0,"y":5.38},
{"x":0.4,"y":2.5},{"x":0.45,"y":2.9},{"x":0.41,"y":3.6},{"x":0.44,"y":4.0},{"x":0.48,"y":4.55},{"x":0.53,"y":4.8},{"x":0.42,"y":1.7},{"x":0.39,"y":2.22},{"x":-0.4,"y":2.6},{"x":-0.42,"y":4.2},{"x":-0.52,"y":4.3},{"x":-0.4,"y":1.6},{"x":0.7,"y":5.3},{"x":0.68,"y":5.9},{"x":0.75,"y":6.1},{"x":-0.68,"y":5.7},{"x":-0.72,"y":6.2}
],
"pts":[
{"x":-1.874,"y":13.65,"c":"ATP"},{"x":-1.694,"y":12.06,"c":"ATP"},{"x":-1.935,"y":11.39,"c":"ATP"},{"x":-1.629,"y":10.99,"c":"ATP"},{"x":-1.387,"y":9.66,"c":"ATP"},{"x":-1.447,"y":9.0,"c":"ATP"},{"x":-1.162,"y":8.51,"c":"ATP"},{"x":-0.5,"y":6.49,"c":"ATP"},
{"x":-0.773,"y":10.85,"c":"PSI"},{"x":-1.274,"y":9.3,"c":"PSI"},{"x":-1.188,"y":9.4,"c":"PSI"},{"x":-1.136,"y":8.35,"c":"PSI"},{"x":-1.184,"y":7.95,"c":"PSI"},{"x":-0.634,"y":8.51,"c":"PSI"},{"x":-0.755,"y":7.23,"c":"PSI"},{"x":-0.22,"y":7.47,"c":"PSI"},
{"x":-1.364,"y":10.47,"c":"PBS"},{"x":-1.321,"y":10.0,"c":"PBS"},{"x":-1.586,"y":9.22,"c":"PBS"},{"x":-1.473,"y":9.16,"c":"PBS"},{"x":-1.499,"y":8.69,"c":"PBS"},{"x":-1.144,"y":8.94,"c":"PBS"},{"x":-1.335,"y":7.58,"c":"PBS"},{"x":-1.283,"y":7.21,"c":"PBS"},
{"x":-0.741,"y":12.27,"c":"PSII"},{"x":-0.854,"y":10.8,"c":"PSII"},{"x":-1.115,"y":9.07,"c":"PSII"},{"x":-0.764,"y":8.2,"c":"PSII"},{"x":-0.608,"y":6.69,"c":"PSII"},{"x":-0.7,"y":5.67,"c":"PSII"},
{"x":-0.366,"y":15.24,"c":"NIT"},{"x":0.961,"y":16.12,"c":"NIT"},{"x":-0.66,"y":13.14,"c":"NIT"},{"x":0.698,"y":13.65,"c":"NIT"},{"x":0.55,"y":12.77,"c":"NIT"},{"x":-0.781,"y":7.92,"c":"NIT"},{"x":-0.79,"y":7.22,"c":"NIT"},{"x":0.079,"y":8.11,"c":"NIT"},{"x":-0.049,"y":7.74,"c":"NIT"},{"x":0.568,"y":6.86,"c":"NIT"},{"x":-0.054,"y":6.32,"c":"NIT"},{"x":0.174,"y":5.11,"c":"NIT"},{"x":-0.418,"y":4.12,"c":"NIT"},{"x":1.037,"y":8.26,"c":"NIT"},
{"x":-0.945,"y":5.29,"c":"NADH"},{"x":-0.274,"y":6.68,"c":"NADH"},{"x":-0.236,"y":5.84,"c":"NADH"},{"x":-0.08,"y":5.87,"c":"NADH"},{"x":-0.25,"y":5.48,"c":"NADH"},{"x":-0.319,"y":4.43,"c":"NADH"},
{"x":1.867,"y":14.5,"c":"TRN"},{"x":1.329,"y":14.34,"c":"TRN"},{"x":1.503,"y":14.27,"c":"TRN"},{"x":1.298,"y":13.87,"c":"TRN"},{"x":1.425,"y":13.87,"c":"TRN"},{"x":1.567,"y":13.85,"c":"TRN"},{"x":1.643,"y":13.39,"c":"TRN"},{"x":1.229,"y":13.23,"c":"TRN"},{"x":1.329,"y":13.23,"c":"TRN"},{"x":1.502,"y":13.04,"c":"TRN"},{"x":0.985,"y":12.6,"c":"TRN"},{"x":1.853,"y":12.19,"c":"TRN"},{"x":1.394,"y":12.0,"c":"TRN"},{"x":1.516,"y":11.58,"c":"TRN"},{"x":1.343,"y":11.39,"c":"TRN"},{"x":1.394,"y":11.1,"c":"TRN"},{"x":1.394,"y":10.75,"c":"TRN"},{"x":1.156,"y":10.16,"c":"TRN"},{"x":1.458,"y":9.99,"c":"TRN"},{"x":1.361,"y":9.67,"c":"TRN"},{"x":1.079,"y":9.4,"c":"TRN"},{"x":1.407,"y":9.03,"c":"TRN"},{"x":1.138,"y":8.95,"c":"TRN"},{"x":1.079,"y":8.44,"c":"TRN"},{"x":1.298,"y":8.24,"c":"TRN"},{"x":1.516,"y":8.07,"c":"TRN"},{"x":1.067,"y":8.0,"c":"TRN"},{"x":1.088,"y":7.19,"c":"TRN"},{"x":2.321,"y":6.22,"c":"TRN"},{"x":-0.011,"y":6.49,"c":"TRN"},{"x":-0.058,"y":4.41,"c":"TRN"},
{"x":1.816,"y":14.4,"c":"PSII"},
{"x":-0.568,"y":8.78,"c":"CO2"},{"x":-0.44,"y":8.21,"c":"CO2"},{"x":-0.314,"y":7.74,"c":"CO2"},{"x":-0.24,"y":7.4,"c":"CO2"},{"x":-0.136,"y":7.08,"c":"CO2"},{"x":-0.08,"y":7.04,"c":"CO2"},{"x":-0.188,"y":6.79,"c":"CO2"},{"x":-0.357,"y":6.6,"c":"CO2"},{"x":-0.271,"y":6.32,"c":"CO2"},{"x":-0.15,"y":6.32,"c":"CO2"},{"x":-0.158,"y":6.58,"c":"CO2"},{"x":0.309,"y":6.35,"c":"CO2"},{"x":-0.349,"y":5.26,"c":"CO2"},{"x":-0.08,"y":5.31,"c":"CO2"},{"x":-0.08,"y":4.23,"c":"CO2"},{"x":-0.032,"y":4.15,"c":"CO2"},
{"x":0.468,"y":13.96,"c":"MOT"},{"x":0.349,"y":13.53,"c":"MOT"},{"x":0.47,"y":12.66,"c":"MOT"},{"x":0.4,"y":11.41,"c":"MOT"},{"x":1.238,"y":7.42,"c":"MOT"},{"x":0.978,"y":6.1,"c":"MOT"},{"x":0.753,"y":4.76,"c":"MOT"},{"x":0.361,"y":3.49,"c":"MOT"},
{"x":-2.272,"y":10.38,"c":"HLI"},{"x":-1.637,"y":6.73,"c":"HLI"},{"x":-1.703,"y":6.56,"c":"HLI"},
{"x":1.993,"y":12.16,"c":"FES"},{"x":2.217,"y":11.12,"c":"FES"},{"x":2.408,"y":10.21,"c":"FES"},{"x":0.952,"y":8.03,"c":"FES"},
{"x":-5.442,"y":18.55,"c":"blk"},{"x":-1.568,"y":13.83,"c":"blk"},{"x":-1.035,"y":13.23,"c":"blk"},{"x":-1.499,"y":12.9,"c":"blk"},{"x":-1.032,"y":12.66,"c":"blk"},{"x":-1.006,"y":12.17,"c":"blk"},{"x":-1.603,"y":11.53,"c":"blk"},{"x":-1.361,"y":11.42,"c":"blk"},{"x":-1.286,"y":11.04,"c":"blk"},{"x":-1.208,"y":10.8,"c":"blk"},{"x":-1.452,"y":10.59,"c":"blk"},{"x":-1.049,"y":9.96,"c":"blk"},{"x":-1.032,"y":9.62,"c":"blk"},{"x":-1.551,"y":7.9,"c":"blk"},{"x":-1.3,"y":7.92,"c":"blk"},{"x":-1.3,"y":5.62,"c":"blk"},{"x":-1.032,"y":5.35,"c":"blk"},{"x":-1.404,"y":4.5,"c":"blk"},
{"x":3.742,"y":17.6,"c":"blk"},{"x":2.774,"y":17.09,"c":"blk"},{"x":1.531,"y":15.7,"c":"blk"},{"x":1.452,"y":15.45,"c":"blk"},{"x":1.631,"y":15.33,"c":"blk"},{"x":1.907,"y":15.37,"c":"blk"},{"x":2.086,"y":15.37,"c":"blk"},{"x":2.665,"y":14.86,"c":"blk"},{"x":3.203,"y":14.4,"c":"blk"},{"x":1.143,"y":14.69,"c":"blk"},{"x":1.298,"y":14.61,"c":"blk"},{"x":1.034,"y":14.03,"c":"blk"},{"x":1.088,"y":13.89,"c":"blk"},{"x":1.216,"y":13.73,"c":"blk"},{"x":1.329,"y":13.68,"c":"blk"},{"x":1.334,"y":13.51,"c":"blk"},{"x":1.513,"y":13.55,"c":"blk"},{"x":1.78,"y":13.95,"c":"blk"},{"x":1.911,"y":13.78,"c":"blk"},{"x":2.031,"y":13.66,"c":"blk"},{"x":2.293,"y":13.51,"c":"blk"},{"x":1.753,"y":13.06,"c":"blk"},{"x":1.243,"y":13.43,"c":"blk"},{"x":2.19,"y":12.65,"c":"blk"},{"x":1.052,"y":12.44,"c":"blk"},{"x":1.179,"y":12.65,"c":"blk"},{"x":1.201,"y":12.7,"c":"blk"},{"x":1.329,"y":12.5,"c":"blk"},{"x":1.531,"y":12.5,"c":"blk"},{"x":1.589,"y":12.16,"c":"blk"},{"x":1.037,"y":11.84,"c":"blk"},{"x":1.148,"y":11.9,"c":"blk"},{"x":1.221,"y":11.88,"c":"blk"},{"x":1.54,"y":11.8,"c":"blk"},{"x":1.265,"y":11.61,"c":"blk"},{"x":1.201,"y":11.3,"c":"blk"},{"x":1.312,"y":11.15,"c":"blk"},{"x":1.502,"y":11.02,"c":"blk"},{"x":1.429,"y":10.52,"c":"blk"},{"x":1.702,"y":10.36,"c":"blk"},{"x":1.358,"y":10.17,"c":"blk"},{"x":1.267,"y":9.65,"c":"blk"},{"x":1.065,"y":9.59,"c":"blk"},{"x":1.525,"y":9.29,"c":"blk"},{"x":1.589,"y":9.31,"c":"blk"},{"x":1.298,"y":9.05,"c":"blk"},{"x":1.183,"y":8.83,"c":"blk"},{"x":1.352,"y":8.61,"c":"blk"},{"x":1.167,"y":8.41,"c":"blk"},{"x":1.203,"y":8.26,"c":"blk"},{"x":1.194,"y":7.97,"c":"blk"},{"x":1.343,"y":7.84,"c":"blk"},{"x":1.498,"y":7.65,"c":"blk"},{"x":1.03,"y":6.77,"c":"blk"},{"x":1.216,"y":6.81,"c":"blk"},{"x":1.234,"y":6.86,"c":"blk"},{"x":1.269,"y":6.2,"c":"blk"},{"x":1.468,"y":5.99,"c":"blk"},{"x":1.191,"y":5.64,"c":"blk"},{"x":1.052,"y":2.84,"c":"blk"},{"x":1.357,"y":3.95,"c":"blk"}
],
"lab":[
{"t":"IsaR1","x":-5.187,"y":18.13,"c":"blk"},{"t":"ycf35","x":-1.326,"y":14.25,"c":"blk"},{"t":"atpI","x":-2.139,"y":13.88,"c":"ATP"},{"t":"ssl1263","x":-1.438,"y":13.29,"c":"blk"},{"t":"atp1","x":-1.603,"y":12.55,"c":"ATP"},{"t":"atpH","x":-2.2,"y":11.75,"c":"ATP"},{"t":"rbcS","x":-1.459,"y":11.75,"c":"blk"},{"t":"atpG","x":-1.928,"y":10.84,"c":"ATP"},{"t":"hliB","x":-2.494,"y":10.59,"c":"HLI"},{"t":"cpcB","x":-1.253,"y":11.07,"c":"PBS"},{"t":"cpcG2","x":-1.075,"y":10.62,"c":"PBS"},{"t":"atpA","x":-1.634,"y":10.21,"c":"ATP"},{"t":"atpF","x":-1.027,"y":10.25,"c":"ATP"},{"t":"psaJ","x":-1.018,"y":9.87,"c":"PSI"},{"t":"cpcC1","x":-1.762,"y":9.71,"c":"PBS"},{"t":"cpcA","x":-0.816,"y":9.59,"c":"PBS"},{"t":"cpcD","x":-1.888,"y":9.28,"c":"PBS"},{"t":"psbO","x":-0.824,"y":9.13,"c":"PSII"},{"t":"atpD","x":-1.788,"y":8.82,"c":"ATP"},{"t":"psaF","x":-1.375,"y":8.85,"c":"PSI"},{"t":"atpC","x":-0.894,"y":8.72,"c":"ATP"},{"t":"cpcC2","x":-1.81,"y":8.38,"c":"PBS"},{"t":"psaK1","x":-0.824,"y":8.29,"c":"PSI"},{"t":"psaM","x":-1.478,"y":8.05,"c":"PSI"},{"t":"slr1544","x":-2.032,"y":7.83,"c":"blk"},{"t":"apcB","x":-1.075,"y":7.58,"c":"PBS"},{"t":"hliC","x":-1.79,"y":7.12,"c":"HLI"},{"t":"apcA","x":-1.174,"y":6.84,"c":"PBS"},{"t":"hliA","x":-1.862,"y":6.1,"c":"HLI"},
{"t":"kpsM","x":3.855,"y":17.91,"c":"blk"},{"t":"slr0108","x":2.921,"y":17.38,"c":"blk"},{"t":"slr0355","x":1.571,"y":16.12,"c":"blk"},{"t":"petF","x":1.252,"y":15.45,"c":"blk"},{"t":"ssr3570","x":2.268,"y":15.72,"c":"blk"},{"t":"ssr3571","x":2.808,"y":15.15,"c":"blk"},{"t":"ssr3572","x":3.353,"y":14.71,"c":"blk"},{"t":"psbZ","x":1.849,"y":14.88,"c":"PSII"},{"t":"sll1348","x":1.285,"y":14.07,"c":"blk"},{"t":"slr0551","x":2.18,"y":13.93,"c":"blk"},{"t":"kpsT","x":2.517,"y":13.51,"c":"blk"},{"t":"slr0109","x":1.889,"y":13.36,"c":"blk"},{"t":"sodB","x":2.435,"y":12.96,"c":"blk"},{"t":"Norf7","x":1.744,"y":12.42,"c":"blk"},{"t":"acnB","x":0.825,"y":12.08,"c":"blk"},{"t":"sufS","x":2.208,"y":11.93,"c":"FES"},{"t":"sufD","x":2.472,"y":10.9,"c":"FES"},{"t":"sll1696","x":1.844,"y":10.67,"c":"blk"},{"t":"sufC","x":2.626,"y":9.99,"c":"FES"},{"t":"sll1240","x":1.674,"y":9.59,"c":"blk"},{"t":"slr7076","x":1.831,"y":8.98,"c":"blk"},{"t":"norB","x":1.143,"y":8.66,"c":"NIT"},{"t":"cccS","x":1.334,"y":7.7,"c":"MOT"}
],
"panel":[{"t":"B"}],
"vl":[{"x":-1},{"x":1}],
"hl":[{"x":-2.29,"x2":4.11,"y":1.301}]
},
"resolve":{"axis":{"y":"independent"}},
"layer":[
{"data":{"name":"gray"},
 "mark":{"type":"circle","size":155,"color":"#BEBEBE","opacity":1},
 "encoding":{
  "x":{"field":"x","type":"quantitative","scale":{"domain":[-5.81,4.11],"nice":false,"zero":false},
   "axis":{"values":[-4,-2,0,2,4],"format":"d","tickSize":19,"tickWidth":2,"labelPadding":14,"labelFont":"Lato","labelFontSize":56,"labelFontWeight":"bold","labelBaseline":"top","labelFlush":false,"title":"ΔisaR1 - WT","titleFont":"Lato","titleFontSize":86,"titleFontWeight":"bold","titleBaseline":"alphabetic","titleY":183}},
  "y":{"field":"y","type":"quantitative","scale":{"domain":[-0.735,19.29],"nice":false,"zero":false},
   "axis":{"values":[0,5,10,15],"format":"d","tickSize":20,"tickWidth":2,"labelAngle":270,"labelAlign":"center","labelBaseline":"alphabetic","labelPadding":23,"labelFont":"Lato","labelFontSize":56,"labelFontWeight":"bold","title":"– log₁₀ (adjusted p-value)","titleFont":"Lato","titleFontSize":88,"titleFontWeight":"bold","titleAngle":270,"titleAlign":"left","titleBaseline":"alphabetic","titleX":-139,"titleY":477}}
 }},
{"data":{"name":"vl"},
 "mark":{"type":"rule","color":"black","strokeWidth":2,"strokeDash":[8,7]},
 "encoding":{"x":{"field":"x","type":"quantitative"}}},
{"data":{"name":"hl"},
 "mark":{"type":"rule","color":"black","strokeWidth":2,"strokeDash":[8,7]},
 "encoding":{"x":{"field":"x","type":"quantitative"},"x2":{"field":"x2"},"y":{"field":"y","type":"quantitative","axis":null}}},
{"data":{"name":"pts"},
 "transform":[{"filter":"datum.c != 'blk'"}],
 "mark":{"type":"circle","size":530,"opacity":1},
 "encoding":{
  "x":{"field":"x","type":"quantitative"},
  "y":{"field":"y","type":"quantitative","axis":null},
  "color":{"field":"c","type":"nominal",
   "scale":{"domain":["ATP","PSI","NADH","NIT","PBS","PSII","TRN","CO2","MOT","HLI","FES","blk"],"range":["#0540ED","#B3EE3A","#68228B","#B0733A","#00B2EE","#6B8E23","#FFA500","#87D7FA","#FF3E96","#EE4000","#CDCD00","#000000"]},
   "legend":{"orient":"none","legendX":-15,"legendY":774,"title":null,"values":["ATP","PSI","NADH","NIT","PBS","PSII","TRN","CO2","MOT","HLI","FES"],"symbolSize":0,"symbolStrokeWidth":0,"symbolOpacity":0,"symbolFillColor":"transparent","labelOffset":0,"padding":0,"rowPadding":0.5,"labelFont":"DejaVu Sans","labelFontSize":32,"labelFontWeight":"bold","labelLimit":1500,
    "labelColor":{"expr":"scale('color', datum.value)"},
    "labelExpr":"datum.label == 'ATP' ? 'ATP synthesis coupled proton transport' : datum.label == 'PSI' ? 'Photosystem I' : datum.label == 'NADH' ? 'NADH dehydrogenase activity' : datum.label == 'NIT' ? 'Nitrate assimilation' : datum.label == 'PBS' ? 'Phycobilisome' : datum.label == 'PSII' ? 'Photosystem II' : datum.label == 'TRN' ? 'Transposition' : datum.label == 'CO2' ? 'CO₂ assimilation / stress associated' : datum.label == 'MOT' ? 'Motilitiy / phototaxis' : datum.label == 'HLI' ? 'High light inducible proteins' : 'Iron sulfur cluster biogenesis'"}}
 }},
{"data":{"name":"pts"},
 "transform":[{"filter":"datum.c == 'blk'"}],
 "mark":{"type":"circle","size":115,"color":"black","opacity":1},
 "encoding":{
  "x":{"field":"x","type":"quantitative"},
  "y":{"field":"y","type":"quantitative","axis":null}
 }},
{"data":{"name":"lab"},
 "mark":{"type":"text","font":"Lato","fontSize":34,"fontWeight":"bold","fontStyle":"italic","align":"center","baseline":"middle"},
 "encoding":{
  "x":{"field":"x","type":"quantitative"},
  "y":{"field":"y","type":"quantitative",
   "axis":{"orient":"right","labels":false,"ticks":false,"domain":false,"grid":false,"title":"48h DFB","titleFont":"Lato","titleFontSize":86,"titleFontWeight":"bold","titleColor":"#231f20","titleAngle":90,"titleAlign":"center","titleBaseline":"alphabetic","titleX":47,"titleY":569}},
  "text":{"field":"t","type":"nominal"},
  "color":{"field":"c","type":"nominal","legend":null}
 }},
{"data":{"name":"panel"},
 "mark":{"type":"text","font":"Lato","fontSize":99,"fontWeight":"bold","align":"center","baseline":"alphabetic","color":"#231f20","clip":false},
 "encoding":{
  "x":{"datum":-6.087,"type":"quantitative"},
  "y":{"datum":18.0,"type":"quantitative","axis":null},
  "text":{"field":"t","type":"nominal"}
 }}
]
}
